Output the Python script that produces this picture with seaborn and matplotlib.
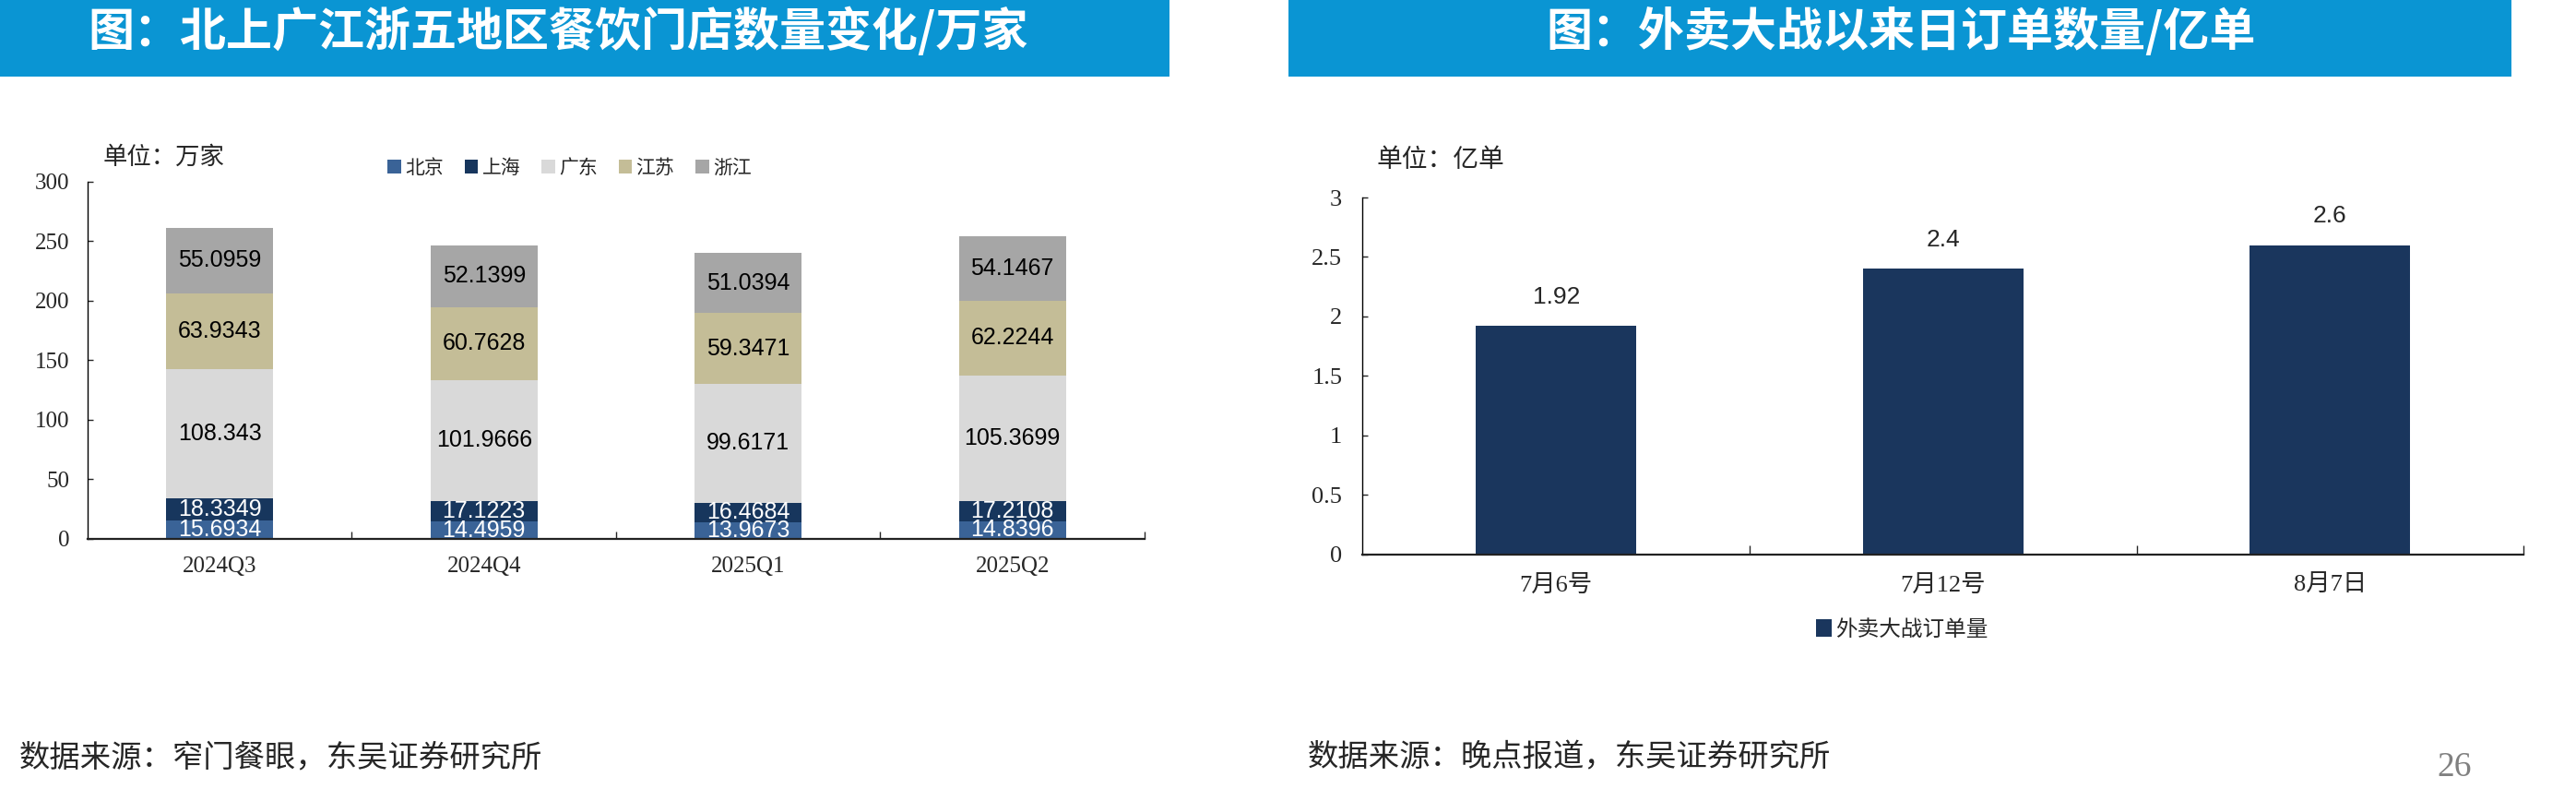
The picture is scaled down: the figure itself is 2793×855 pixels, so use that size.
import matplotlib
matplotlib.use("Agg")
import matplotlib.pyplot as plt
import seaborn as sns
import numpy as np
from matplotlib.patches import Patch, Rectangle

# ---------------- data ----------------
quarters = ["2024Q3", "2024Q4", "2025Q1", "2025Q2"]
regions = ["北京", "上海", "广东", "江苏", "浙江"]
beijing = [15.6934, 14.4959, 13.9673, 14.8396]
shanghai = [18.3349, 17.1223, 16.4684, 17.2108]
guangdong = [108.343, 101.9666, 99.6171, 105.3699]
jiangsu = [63.9343, 60.7628, 59.3471, 62.2244]
zhejiang = [55.0959, 52.1399, 51.0394, 54.1467]
left_yticks = [0, 50, 100, 150, 200, 250, 300]

dates = ["7月6号", "7月12号", "8月7日"]
orders = [1.92, 2.4, 2.6]
order_labels = ["1.92", "2.4", "2.6"]
right_yticks = [0, 0.5, 1, 1.5, 2, 2.5, 3]
right_series_name = "外卖大战订单量"

left_title = "图：北上广江浙五地区餐饮门店数量变化/万家"
right_title = "图：外卖大战以来日订单数量/亿单"
left_unit = "单位：万家"
right_unit = "单位：亿单"
left_source = "数据来源：窄门餐眼，东吴证券研究所"
right_source = "数据来源：晚点报道，东吴证券研究所"
page_no = "26"

# ---------------- style ----------------
region_colors = ["#3a6397", "#17365d", "#d9d9d9", "#c4bd97", "#a6a6a6"]
label_colors = ["white", "white", "black", "black", "black"]
order_color = "#1a365d"
banner_color = "#0a95d3"

sns.set_style("white")
plt.rcParams["font.family"] = ["Noto Sans CJK SC", "DejaVu Sans"]
plt.rcParams["axes.unicode_minus"] = False

CJK = ["Noto Sans CJK SC", "DejaVu Sans"]
SERIF = ["Liberation Serif", "Noto Sans CJK SC"]
SANS = ["Liberation Sans", "DejaVu Sans"]

fig = plt.figure(figsize=(27.93, 8.55), dpi=100)
fig.patch.set_facecolor("white")

# banners
fig.patches.append(Rectangle((0.0, 0.9029), 0.4540, 0.0971, transform=fig.transFigure,
                             facecolor=banner_color, edgecolor="none", zorder=0))
fig.patches.append(Rectangle((0.5002, 0.9029), 0.4747, 0.0971, transform=fig.transFigure,
                             facecolor=banner_color, edgecolor="none", zorder=0))
fig.text(0.2166, 0.960, left_title, ha="center", va="center", color="white",
         fontsize=36, fontweight="bold", family=CJK)
fig.text(0.7379, 0.960, right_title, ha="center", va="center", color="white",
         fontsize=36, fontweight="bold", family=CJK)

# ---------------- left chart ----------------
ax1 = fig.add_axes([0.0340, 0.3170, 0.4103, 0.4529])
series = [beijing, shanghai, guangdong, jiangsu, zhejiang]
cum = np.cumsum(np.array(series), axis=0)
for k in range(len(series) - 1, -1, -1):
    sns.barplot(x=quarters, y=cum[k], color=region_colors[k], width=0.405,
                saturation=1, errorbar=None, ax=ax1, linewidth=0)
for k in range(len(series)):
    for i in range(len(quarters)):
        mid = cum[k][i] - series[k][i] / 2
        ax1.text(i, mid, str(series[k][i]), ha="center", va="center",
                 color=label_colors[k], fontsize=18, family=SANS)
ax1.set_ylim(0, 300)
ax1.set_xlim(-0.5, len(quarters) - 0.5)
ax1.set_yticks(left_yticks)
ax1.set_yticklabels([str(t) for t in left_yticks])
ax1.set_xticks(range(len(quarters)))
ax1.set_xticklabels(quarters)
ax1.set_xticks([i + 0.5 for i in range(len(quarters))], minor=True)
ax1.tick_params(axis="y", direction="in", length=4, width=1, pad=14, labelsize=18, left=True)
ax1.tick_params(axis="x", which="major", length=0, pad=14, labelsize=18)
ax1.tick_params(axis="x", which="minor", direction="in", length=6, width=1, bottom=True)
for lab in ax1.get_xticklabels() + ax1.get_yticklabels():
    lab.set_fontfamily(SERIF)
ax1.set_xlabel("")
ax1.set_ylabel("")
for s in ["top", "right"]:
    ax1.spines[s].set_visible(False)
ax1.spines["left"].set_linewidth(1.0)
ax1.spines["left"].set_color("black")
ax1.spines["bottom"].set_linewidth(1.6)
ax1.spines["bottom"].set_color("#222222")
ax1.grid(False)

handles = [Patch(facecolor=c, edgecolor="none", label=r) for c, r in zip(region_colors, regions)]
leg1 = ax1.legend(handles=handles, ncol=5, loc="center", bbox_to_anchor=(0.2211, 0.7875),
                  bbox_transform=fig.transFigure, frameon=False, fontsize=15,
                  handlelength=0.7, handleheight=0.7, handletextpad=0.2, columnspacing=1.1,
                  prop={"family": CJK, "size": 15})

fig.text(0.0401, 0.8012, left_unit, ha="left", va="center", fontsize=19, family=CJK)

# ---------------- right chart ----------------
ax2 = fig.add_axes([0.5290, 0.2974, 0.4506, 0.4523])
sns.barplot(x=dates, y=orders, color=order_color, width=0.414, saturation=1,
            errorbar=None, ax=ax2, linewidth=0)
ax2.bar_label(ax2.containers[0], labels=order_labels, padding=14, fontsize=19,
              fontfamily=SANS)
ax2.set_ylim(0, 3)
ax2.set_xlim(-0.5, len(dates) - 0.5)
ax2.set_yticks(right_yticks)
ax2.set_yticklabels([f"{t:g}" for t in right_yticks])
ax2.set_xticks([i + 0.5 for i in range(len(dates))], minor=True)
ax2.tick_params(axis="y", direction="in", length=4, width=1, pad=16, labelsize=19, left=True)
ax2.tick_params(axis="x", which="major", length=0, pad=16, labelsize=19)
ax2.tick_params(axis="x", which="minor", direction="in", length=7, width=1, bottom=True)
for lab in ax2.get_xticklabels() + ax2.get_yticklabels():
    lab.set_fontfamily(SERIF)
ax2.set_xlabel("")
ax2.set_ylabel("")
for s in ["top", "right"]:
    ax2.spines[s].set_visible(False)
ax2.spines["left"].set_linewidth(1.0)
ax2.spines["left"].set_color("black")
ax2.spines["bottom"].set_linewidth(1.6)
ax2.spines["bottom"].set_color("#222222")
ax2.grid(False)

ax2.legend(handles=[Patch(facecolor=order_color, edgecolor="none", label=right_series_name)],
           loc="center", bbox_to_anchor=(0.7383, 0.2023), bbox_transform=fig.transFigure,
           frameon=False, handlelength=0.75, handleheight=0.85, handletextpad=0.15,
           prop={"family": CJK, "size": 17})

fig.text(0.5342, 0.7977, right_unit, ha="left", va="center", fontsize=20, family=CJK)

# footer
fig.text(0.0075, 0.0398, left_source, ha="left", va="center", fontsize=24, family=CJK)
fig.text(0.5077, 0.0398, right_source, ha="left", va="center", fontsize=24, family=CJK)
fig.text(0.9527, 0.0269, page_no, ha="center", va="center", fontsize=27,
         family=SERIF, color="#808080")

fig.savefig("out.png", dpi=100, facecolor="white")
